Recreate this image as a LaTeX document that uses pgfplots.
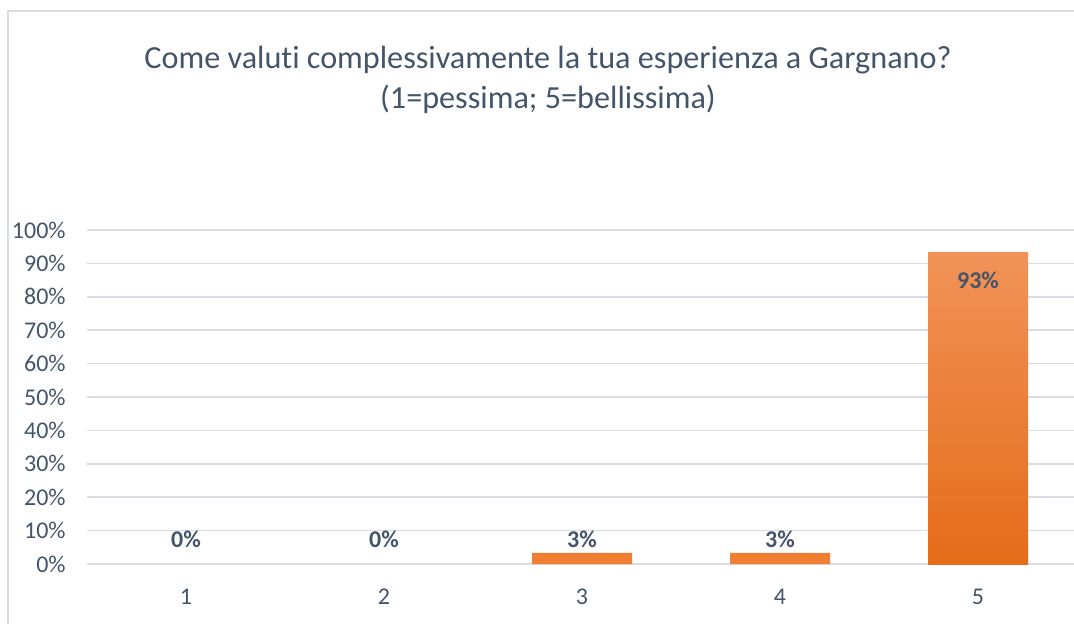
\documentclass[border=0pt]{standalone}
\usepackage{pgfplots}
\pgfplotsset{compat=1.18}
\usepackage{fontspec}
\setmainfont{Carlito}[Ligatures=NoCommon]
\definecolor{txt}{HTML}{44546A}
\definecolor{gridc}{HTML}{D9DDE3}
\definecolor{borderc}{HTML}{D9DDE3}
\definecolor{bartop}{HTML}{F19358}
\definecolor{barbot}{HTML}{E46C1A}
\definecolor{barmid}{HTML}{F07E33}
\begin{document}
\begin{tikzpicture}
\useasboundingbox (0,0) rectangle (537pt,311.5pt);
\draw[borderc,line width=0.75pt] (4pt,-10pt) rectangle (550pt,306pt);
\node[txt,font=\fontsize{16.1}{20}\selectfont,align=center] at (274pt,271.5pt)
  {Come valuti complessivamente la tua esperienza a Gargnano?\\(1=pessima; 5=bellissima)};
\begin{axis}[
  at={(43.5pt,29.5pt)}, anchor=south west,
  scale only axis, width=495pt, height=167pt,
  xmin=0.5, xmax=5.5, ymin=0, ymax=100,
  axis line style={draw=none},
  ybar, bar width=50pt,
  ymajorgrids, grid style={gridc,line width=0.75pt},
  xtick={1,2,3,4,5}, ytick={0,10,...,100},
  /pgf/number format/assume math mode=true,
  yticklabel={\pgfmathprintnumber{\tick}\%},
  tick label style={txt,font=\fontsize{12}{14}\selectfont,inner sep=0pt},
  yticklabel style={anchor=east,xshift=-10.5pt},
  xticklabel style={anchor=center,yshift=-16.5pt},
  major tick length=0pt,
  tick style={draw=none},
  clip=false,
  nodes near coords={\pgfmathprintnumber[fixed,precision=0]{\pgfplotspointmeta}\%},
  every node near coord/.append style={txt,font=\bfseries\fontsize{12}{14}\selectfont,inner sep=0pt,anchor=center},
]
\addplot[draw=none,fill=none,bar shift=0pt,
  every node near coord/.append style={yshift=12.5pt}] coordinates {(1,0) (2,0)};
\addplot[draw=none,fill=barmid,bar shift=0pt,
  point meta=explicit,
  every node near coord/.append style={yshift=7pt}] coordinates {(3,3.33) [3] (4,3.33) [3]};
\addplot[draw=none,top color=bartop,bottom color=barbot,bar shift=0pt,
  point meta=explicit,
  every node near coord/.append style={yshift=-14pt}] coordinates {(5,93.33) [93]};
\end{axis}
\end{tikzpicture}
\end{document}
